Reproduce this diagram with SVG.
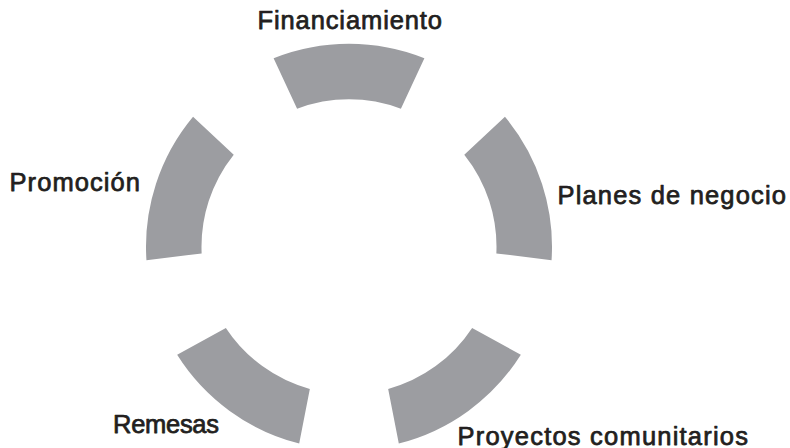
<svg xmlns="http://www.w3.org/2000/svg" width="790" height="448" viewBox="0 0 790 448">
  <style>
    .seg { fill: #9c9da1; stroke: none; }
    .lbl { font-family: "Liberation Sans", Arial, sans-serif; font-size: 25.5px; fill: #231f20; stroke: #231f20; stroke-width: 0.75; stroke-linejoin: round; }
  </style>
  <rect width="790" height="448" fill="#ffffff"/>
  <g id="connectors"></g>
  <g id="node-financiamiento">
    <path class="seg" d="M273.61,58.22 A203,203 0 0 1 424.39,58.22 L400.90,108.63 A147.5,147.5 0 0 0 297.10,108.63 Z"/>
    <text class="lbl" x="257.5" y="29.3" textLength="184.5" lengthAdjust="spacing">Financiamiento</text>
  </g>
  <g id="node-planes">
    <path class="seg" d="M504.96,116.76 A203,203 0 0 1 551.55,260.15 L496.35,253.39 A147.5,147.5 0 0 0 464.27,154.68 Z"/>
    <text class="lbl" x="557.5" y="204.3" textLength="228.5" lengthAdjust="spacing">Planes de negocio</text>
  </g>
  <g id="node-proyectos">
    <path class="seg" d="M520.84,354.77 A203,203 0 0 1 398.80,443.50 L388.17,388.90 A147.5,147.5 0 0 0 472.14,327.90 Z"/>
    <text class="lbl" x="457.5" y="444.5" textLength="290.5" lengthAdjust="spacing">Proyectos comunitarios</text>
  </g>
  <g id="node-remesas">
    <path class="seg" d="M299.20,443.50 A203,203 0 0 1 177.16,354.77 L225.86,327.90 A147.5,147.5 0 0 0 309.83,388.90 Z"/>
    <text class="lbl" x="113" y="433.3" textLength="106" lengthAdjust="spacing">Remesas</text>
  </g>
  <g id="node-promocion">
    <path class="seg" d="M146.45,260.15 A203,203 0 0 1 193.04,116.76 L233.73,154.68 A147.5,147.5 0 0 0 201.65,253.39 Z"/>
    <text class="lbl" x="9.5" y="191" textLength="130.5" lengthAdjust="spacing">Promoción</text>
  </g>
</svg>
